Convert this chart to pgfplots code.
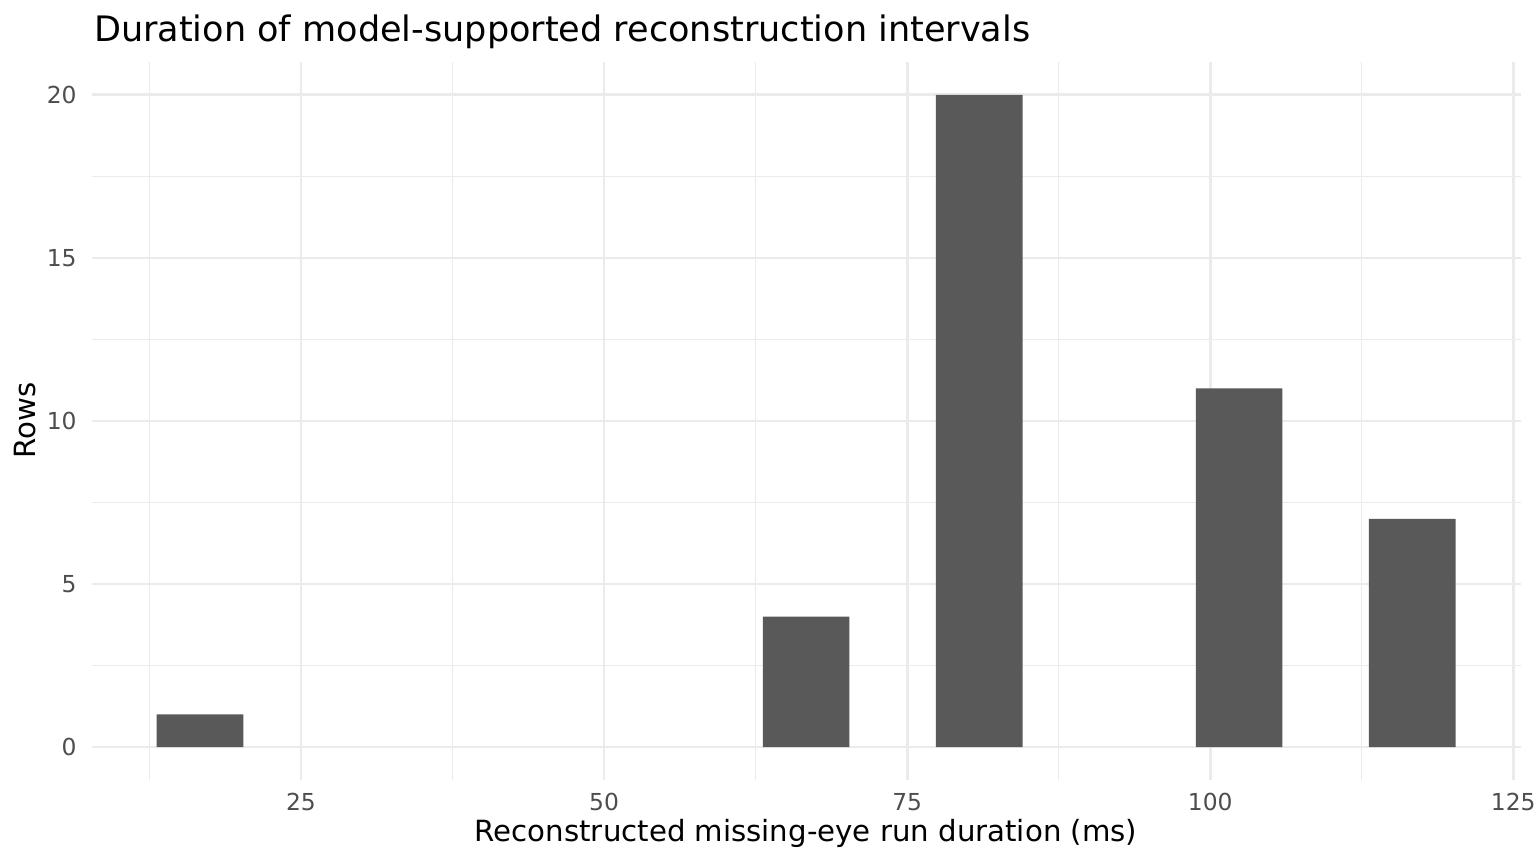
\documentclass[border=0pt]{standalone}
\usepackage{pgfplots}
\pgfplotsset{compat=1.18}
\usepackage{fontspec}
\setmainfont{DejaVu Sans}
\definecolor{gridc}{HTML}{EBEBEB}
\definecolor{barc}{HTML}{595959}
\definecolor{tickc}{HTML}{4D4D4D}
\begin{document}
\begin{tikzpicture}
\useasboundingbox (0,0) rectangle (578.16pt,325.21pt);
\begin{axis}[
  at={(34.63pt,31.62pt)}, anchor=south west,
  width=537.89pt, height=270.26pt, scale only axis,
  axis line style={draw=none},
  xmin=7.76, xmax=125.64, ymin=-1.01, ymax=21.01,
  xtick={25,50,75,100,125},
  minor xtick={12.5,37.5,62.5,87.5,112.5},
  ytick={0,5,10,15,20},
  minor ytick={2.5,7.5,12.5,17.5},
  major tick length=0pt, minor tick length=0pt,
  tick style={draw=none},
  xtick pos=bottom, ytick pos=left,
  grid=both,
  major grid style={draw=gridc, line width=1.07pt},
  minor grid style={draw=gridc, line width=0.53pt},
  /pgf/number format/assume math mode=true,
  xticklabel style={font=\fontsize{8.8}{10}\selectfont, text=tickc, inner sep=0pt, anchor=north, yshift=-4.9pt},
  yticklabel style={font=\fontsize{8.8}{10}\selectfont, text=tickc, inner sep=0pt, anchor=east, xshift=-5.6pt},
  clip=false,
]
\addplot[ybar, bar width=7.143, bar shift=0pt, fill=barc, draw=none]
  coordinates {(16.667,1) (66.667,4) (80.952,20) (102.381,11) (116.667,7)};
\end{axis}
\node[anchor=base west, inner sep=0pt, font=\fontsize{13.2}{15}\selectfont] at (35.2pt,309.6pt) {Duration of model-supported reconstruction intervals};
\node[anchor=base, inner sep=0pt, font=\fontsize{11}{13}\selectfont] at (303.4pt,8.3pt) {Reconstructed missing-eye run duration (ms)};
\node[anchor=base, rotate=90, inner sep=0pt, font=\fontsize{11}{13}\selectfont] at (13.2pt,167.1pt) {Rows};
\end{tikzpicture}
\end{document}
